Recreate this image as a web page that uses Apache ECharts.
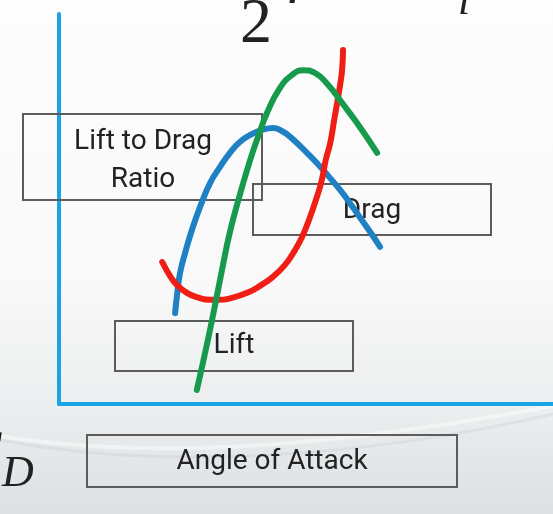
<!DOCTYPE html>
<html>
<head>
<meta charset="utf-8">
<script src="https://cdn.jsdelivr.net/npm/echarts@6/dist/echarts.min.js"></script>
<style>
  html, body { margin: 0; padding: 0; background: #fff; }
  #chart { width: 553px; height: 514px; }
</style>
</head>
<body>
<div id="chart"></div>
<script>
// angle of attack (0-100, arbitrary) vs coefficient (0-100, arbitrary)
const liftCurve = [
    [27.9, 3.6], [30.0, 15.6], [31.6, 25.4], [33.0, 34.4], [34.6, 44.1], [36.6, 53.6],
    [38.7, 62.6], [40.3, 68.5], [42.1, 74.6], [44.7, 81.0], [47.2, 84.4], [49.4, 85.6],
    [51.8, 84.9], [54.5, 81.8], [57.3, 77.2], [60.3, 72.1], [64.4, 64.4]
];
const dragCurve = [
    [20.9, 36.4], [22.5, 32.8], [23.9, 30.5], [25.9, 28.5], [27.9, 27.4], [30.6, 26.7],
    [32.2, 26.7], [35.0, 27.2], [38.1, 28.5], [40.7, 30.3], [43.3, 32.6], [45.7, 35.6],
    [47.4, 38.7], [49.2, 42.8], [50.8, 47.9], [52.0, 52.3], [53.2, 57.4], [54.0, 62.6],
    [54.9, 66.9], [55.7, 72.8], [56.3, 77.2], [56.9, 81.8], [57.3, 85.6], [57.5, 90.8]
];
const ratioCurve = [
    [23.5, 23.3], [23.9, 27.9], [24.5, 33.6], [25.7, 39.5], [27.1, 45.4], [28.7, 51.0],
    [30.6, 56.7], [32.6, 60.8], [34.6, 64.4], [36.6, 67.2], [38.7, 69.0], [41.1, 70.3],
    [43.3, 70.8], [45.1, 70.0], [46.8, 68.5], [49.4, 65.4], [52.2, 61.8], [54.5, 58.5],
    [56.9, 54.9], [58.9, 51.5], [60.9, 47.9], [63.0, 44.1], [65.0, 40.3]
];

const chart = echarts.init(document.getElementById('chart'), null, { renderer: 'canvas' });

const axisBlue = '#1ba3e4';
const boxStyle = { fill: 'none', stroke: '#5c5c5c', lineWidth: 2 };
const labelFont = '28px Roboto';

function box(x, y, w, h) {
    return { type: 'rect', z: 1, shape: { x: x, y: y, width: w, height: h }, style: boxStyle };
}
function label(text, x, y, font) {
    return {
        type: 'text', z: 1, x: x, y: y,
        style: { text: text, font: font || labelFont, fill: '#222', align: 'center', verticalAlign: 'middle' }
    };
}

const option = {
    animation: false,
    backgroundColor: 'transparent',
    grid: { left: 59, top: 14, right: 0, bottom: 110, outerBoundsMode: 'none' },
    xAxis: {
        type: 'value', min: 0, max: 100,
        axisLine: { show: true, lineStyle: { color: axisBlue, width: 4 } },
        axisTick: { show: false }, axisLabel: { show: false }, splitLine: { show: false }
    },
    yAxis: {
        type: 'value', min: 0, max: 100,
        axisLine: { show: true, lineStyle: { color: axisBlue, width: 4 } },
        axisTick: { show: false }, axisLabel: { show: false }, splitLine: { show: false }
    },
    graphic: [
        // 背景渐变
        {
            type: 'rect', z: -10, shape: { x: 0, y: 0, width: 553, height: 514 },
            style: {
                fill: new echarts.graphic.LinearGradient(0, 0, 0, 1, [
                    { offset: 0, color: '#fdfdfd' },
                    { offset: 0.55, color: '#f9f9f9' },
                    { offset: 0.78, color: '#eceeef' },
                    { offset: 1, color: '#dde0e3' }
                ])
            }
        },
        {
            type: 'bezierCurve', z: -9,
            shape: { x1: 0, y1: 436, x2: 553, y2: 406, cpx1: 200, cpy1: 468, cpx2: 420, cpy2: 430 },
            style: { stroke: 'rgba(255,255,255,0.45)', lineWidth: 4, fill: 'none' }
        },
        {
            type: 'bezierCurve', z: -9,
            shape: { x1: 0, y1: 440, x2: 553, y2: 414, cpx1: 200, cpy1: 478, cpx2: 420, cpy2: 445 },
            style: { stroke: 'rgba(160,170,180,0.15)', lineWidth: 3, fill: 'none' }
        },
        // 方框
        box(23, 114, 239, 86),
        box(253, 184, 238, 51),
        box(115, 321, 238, 50),
        box(87, 435, 370, 52),
        label('Lift to Drag', 143, 142),
        label('Ratio', 143, 180),
        label('Drag', 372, 211),
        label('Lift', 234, 346),
        label('Angle of Attack', 272, 462),
        // 公式残留
        label('2', 256, 25, '64px "Liberation Serif"'),
        label('ρ', 306, -26, 'italic 62px "Liberation Serif"'),
        label('l', 464, 2, 'italic 44px "Liberation Serif"'),
        {
            type: 'text', z: 1, x: 1, y: 455,
            style: { text: 'C', font: 'italic 62px "Liberation Serif"', fill: '#111', align: 'right', verticalAlign: 'middle' }
        },
        label('D', 18, 474, 'italic 44px "Liberation Serif"')
    ],
    series: [
        {
            name: 'Lift to Drag Ratio', type: 'line', data: ratioCurve, smooth: true, showSymbol: false,
            lineStyle: { color: '#1f80c4', width: 6, cap: 'round' }, clip: false, z: 3
        },
        {
            name: 'Drag', type: 'line', data: dragCurve, smooth: true, showSymbol: false,
            lineStyle: { color: '#ef1f15', width: 6, cap: 'round' }, clip: false, z: 4
        },
        {
            name: 'Lift', type: 'line', data: liftCurve, smooth: true, showSymbol: false,
            lineStyle: { color: '#179a4b', width: 6, cap: 'round' }, clip: false, z: 5
        }
    ]
};

chart.setOption(option);
</script>
</body>
</html>
